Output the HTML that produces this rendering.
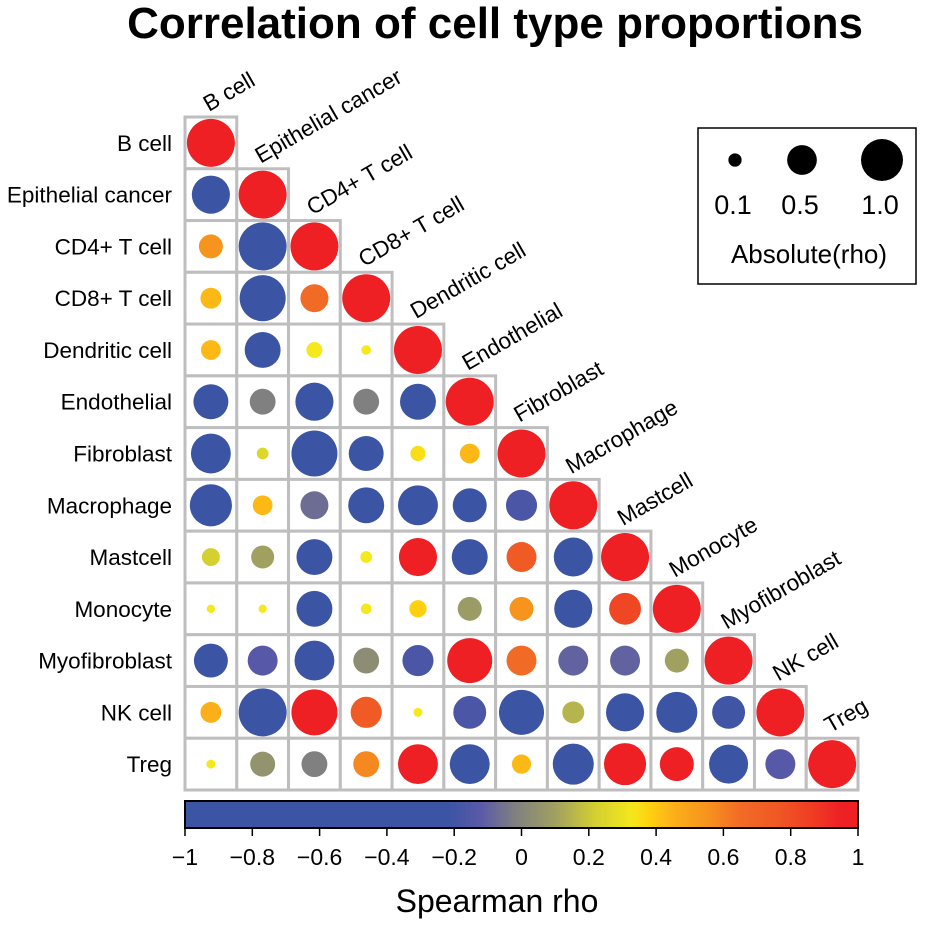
<!DOCTYPE html>
<html><head><meta charset="utf-8"><style>
body{margin:0;background:#fff}
svg text{font-family:"Liberation Sans",Arial,sans-serif}
</style></head><body>
<svg id="chart" width="925" height="925" xmlns="http://www.w3.org/2000/svg">
<text x="495" y="38" text-anchor="middle" font-size="44" font-weight="bold">Correlation of cell type proportions</text>
<g id="grid"></g><g id="dots"></g><g id="labels"></g>
<defs><linearGradient id="cbg" x1="0" x2="1" y1="0" y2="0"></linearGradient></defs>
<rect x="185" y="801" width="673" height="27" fill="url(#cbg)" stroke="#000" stroke-width="2"/>
<g id="cbticks"></g>
<text x="497" y="912" text-anchor="middle" font-size="32">Spearman rho</text>
<g>
<rect x="698" y="128" width="218" height="156" fill="#fff" stroke="#000" stroke-width="1.5"/>
<g id="legend"></g>
<text x="809" y="263" text-anchor="middle" font-size="26">Absolute(rho)</text>
</g>
</svg>
<script>
const cellTypes=["B cell","Epithelial cancer","CD4+ T cell","CD8+ T cell","Dendritic cell","Endothelial","Fibroblast","Macrophage","Mastcell","Monocyte","Myofibroblast","NK cell","Treg"];
// lower triangle colour values (Spearman rho), row i has i entries
const rho=[
[],
[-0.6],
[0.55,-0.6],
[0.43,-0.6,0.65],
[0.43,-0.6,0.33,0.33],
[-0.6,-0.02,-0.6,-0.02,-0.6],
[-0.6,0.25,-0.6,-0.6,0.35,0.43],
[-0.6,0.43,-0.07,-0.6,-0.6,-0.6,-0.17],
[0.22,0.1,-0.6,0.33,0.95,-0.6,0.75,-0.6],
[0.33,0.33,-0.6,0.33,0.38,0.08,0.55,-0.6,0.83],
[-0.6,-0.13,-0.6,0.03,-0.17,0.95,0.65,-0.1,-0.1,0.1],
[0.45,-0.6,0.95,0.75,0.33,-0.17,-0.6,0.15,-0.6,-0.6,-0.2],
[0.33,0.05,-0.02,0.58,0.95,-0.6,0.43,-0.6,0.95,0.95,-0.6,-0.13]
];
// absolute rho controlling circle size
const absRho=[
[],
[0.63],
[0.25,1.0],
[0.19,0.92,0.34],
[0.17,0.56,0.11,0.04],
[0.53,0.29,0.63,0.29,0.56],
[0.69,0.06,0.92,0.53,0.1,0.17],
[0.77,0.17,0.34,0.56,0.69,0.5,0.42],
[0.14,0.23,0.56,0.06,0.63,0.56,0.39,0.66],
[0.03,0.03,0.56,0.05,0.13,0.25,0.25,0.63,0.44],
[0.5,0.39,0.69,0.29,0.42,0.88,0.39,0.39,0.39,0.25],
[0.19,1.0,0.92,0.42,0.035,0.47,0.88,0.21,0.63,0.73,0.47],
[0.035,0.27,0.29,0.29,0.69,0.69,0.16,0.73,0.77,0.5,0.66,0.39]
];
const cbTicks=[-1,-0.8,-0.6,-0.4,-0.2,0,0.2,0.4,0.6,0.8,1];
const cbTickLabels=["\u22121","\u22120.8","\u22120.6","\u22120.4","\u22120.2","0","0.2","0.4","0.6","0.8","1"];
const legendVals=[0.1,0.5,1.0];
const legendLabels=["0.1","0.5","1.0"];

const NS="http://www.w3.org/2000/svg";
const x0=185,y0=117,cs=51.77,N=cellTypes.length;
const stops=[[-1,"#3B54A4"],[-0.22,"#3B54A4"],[-0.12,"#5A5AA8"],[-0.02,"#808080"],[0.1,"#A0A060"],[0.22,"#D4D030"],[0.33,"#F5E81C"],[0.38,"#FFD010"],[0.45,"#FBB019"],[0.55,"#F7941D"],[0.65,"#F26B26"],[0.75,"#F05A24"],[0.85,"#EF4123"],[0.95,"#EE2024"],[1,"#EE2024"]];
function hex(c){return [1,3,5].map(k=>parseInt(c.substr(k,2),16));}
function colorOf(v){for(let k=1;k<stops.length;k++){if(v<=stops[k][0]){const[a,ca]=stops[k-1],[b,cb]=stops[k];const t=(v-a)/(b-a||1);const A=hex(ca),B=hex(cb);return "rgb("+A.map((q,m)=>Math.round(q+(B[m]-q)*t)).join(",")+")";}}return stops[stops.length-1][1];}
const xS=j=>x0+j*cs, yS=i=>y0+i*cs;
const rS=v=>24*Math.sqrt(Math.abs(v));
const cbX=v=>185+(v+1)/2*673;
function mk(tag,attrs,parent){const e=document.createElementNS(NS,tag);for(const k in attrs)e.setAttribute(k,attrs[k]);parent.appendChild(e);return e;}
const grid=document.getElementById('grid'),dots=document.getElementById('dots'),labels=document.getElementById('labels');
for(let i=0;i<N;i++){
  for(let j=0;j<=i;j++){
    const c=mk('rect',{x:xS(j),y:yS(i),width:cs,height:cs,fill:'#fff',stroke:'#BEBEBE','stroke-width':3},grid);
    
    
    const val=i===j?1:rho[i][j], sz=i===j?1:absRho[i][j];
    const d=mk('circle',{cx:xS(j)+cs/2,cy:yS(i)+cs/2,r:rS(sz),fill:colorOf(val)},dots);
    
    
  }
  const rl=mk('text',{x:172,y:yS(i)+cs/2+8,'text-anchor':'end','font-size':22.5},labels);
  rl.textContent=cellTypes[i];
  
  
  const cx=xS(i)+cs/2-2, cy=yS(i)-5;
  const cl=mk('text',{x:cx,y:cy,'font-size':22.5,transform:'rotate(-30 '+cx+' '+cy+')'},labels);
  cl.textContent=cellTypes[i];
  
  
}
const g=document.getElementById('cbg');
for(let k=0;k<=100;k++){const v=-1+k/50;mk('stop',{offset:(k)+'%','stop-color':colorOf(v)},g);}
const cbt=document.getElementById('cbticks');
cbTicks.forEach((t,k)=>{
  const l=mk('line',{x1:cbX(t),x2:cbX(t),y1:828,y2:836,stroke:'#000','stroke-width':1.5},cbt);
  
  
  const tx=mk('text',{x:cbX(t),y:865,'text-anchor':'middle','font-size':23},cbt);
  tx.textContent=cbTickLabels[k];
  
  
});
const lg=document.getElementById('legend');
const legX=[735,802,882];
legendVals.forEach((v,k)=>{
  const cx=legX[k];
  const c=mk('circle',{cx:cx,cy:160,r:21*Math.sqrt(v),fill:'#000'},lg);
  
  
  const t=mk('text',{x:cx-2,y:214,'text-anchor':'middle','font-size':27},lg);
  t.textContent=legendLabels[k];
  
  
});
</script>
</body></html>
